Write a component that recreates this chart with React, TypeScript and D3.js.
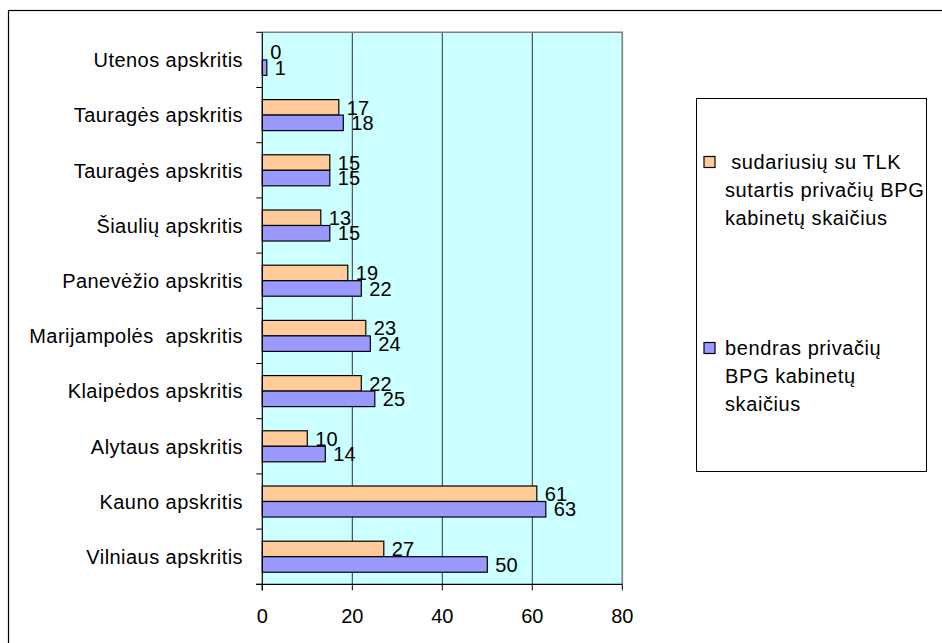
import React from "react";
import * as d3 from "d3";

// Regions, top to bottom
const categories = [
  "Utenos apskritis",
  "Tauragės apskritis",
  "Tauragės apskritis",
  "Šiaulių apskritis",
  "Panevėžio apskritis",
  "Marijampolės  apskritis",
  "Klaipėdos apskritis",
  "Alytaus apskritis",
  "Kauno apskritis",
  "Vilniaus apskritis",
];

// Private GP offices with a TLK contract
const contracted = [0, 17, 15, 13, 19, 23, 22, 10, 61, 27];
// Total private GP offices
const total = [1, 18, 15, 15, 22, 24, 25, 14, 63, 50];

const xTicks = [0, 20, 40, 60, 80];

const seriesNames = [
  [" sudariusių su TLK", "sutartis privačių BPG", "kabinetų skaičius"],
  ["bendras privačių", "BPG kabinetų", "skaičius"],
];

const ORANGE = "#FFCC99";
const BLUE = "#9999FF";
const FONT = "'Liberation Sans', Arial, sans-serif";

export default function App() {
  const W = 942;
  const H = 643;
  const plot = { left: 262.3, right: 622.3, top: 32.3, bottom: 584.3 };

  const x = d3.scaleLinear().domain([0, 80]).range([plot.left, plot.right]);
  const y = d3
    .scaleBand<number>()
    .domain(d3.range(categories.length))
    .range([plot.top, plot.bottom]);
  const inner = d3
    .scaleBand<number>()
    .domain([0, 1])
    .range([0, y.bandwidth()])
    .paddingOuter(0.78)
    .paddingInner(0);

  const series = [
    { values: contracted, color: ORANGE },
    { values: total, color: BLUE },
  ];

  const textStyle: React.CSSProperties = {
    fontFamily: FONT,
    fontSize: 20,
    letterSpacing: 0.45,
    whiteSpace: "pre",
  };
  const numStyle: React.CSSProperties = { ...textStyle, letterSpacing: 0 };

  return (
    <svg
      width={W}
      height={H}
      style={{ position: "fixed", left: 0, top: 0, background: "#fff" }}
    >
      {/* outer chart frame */}
      <rect x={8.5} y={10.5} width={1000} height={1000} fill="none" stroke="#000" strokeWidth={1.2} />

      {/* plot background */}
      <rect
        x={plot.left}
        y={plot.top}
        width={plot.right - plot.left}
        height={plot.bottom - plot.top}
        fill="#CCFFFF"
      />

      {/* vertical gridlines */}
      {xTicks.slice(1, -1).map((t) => (
        <line key={t} x1={x(t)} x2={x(t)} y1={plot.top} y2={plot.bottom} stroke="#333" strokeWidth={1} />
      ))}

      {/* plot border (top and right) */}
      <path
        d={`M${plot.left},${plot.top}H${plot.right}V${plot.bottom}`}
        fill="none"
        stroke="#808080"
        strokeWidth={1.6}
      />

      {/* bars */}
      {series.map((s, si) =>
        s.values.map((v, i) => {
          const by = (y(i) as number) + (inner(si) as number);
          const bh = inner.bandwidth();
          return (
            <g key={`${si}-${i}`}>
              {v > 0 && (
                <rect
                  x={x(0)}
                  y={by}
                  width={x(v) - x(0)}
                  height={bh}
                  fill={s.color}
                  stroke="#000"
                  strokeWidth={1.2}
                />
              )}
              <text x={x(v) + 8} y={by + bh / 2} dy="0.36em" style={numStyle} fill="#000">
                {v}
              </text>
            </g>
          );
        })
      )}

      {/* y axis */}
      <line x1={plot.left} x2={plot.left} y1={plot.top} y2={plot.bottom + 6} stroke="#000" strokeWidth={1.2} />
      {d3.range(categories.length + 1).map((i) => {
        const ty = plot.top + i * y.step();
        return <line key={i} x1={plot.left - 6} x2={plot.left} y1={ty} y2={ty} stroke="#000" strokeWidth={1} />;
      })}
      {categories.map((c, i) => (
        <text
          key={i}
          x={243}
          y={(y(i) as number) + y.bandwidth() / 2}
          dy="0.36em"
          textAnchor="end"
          style={textStyle}
          fill="#000"
        >
          {c}
        </text>
      ))}

      {/* x axis */}
      <line x1={plot.left - 6} x2={plot.right} y1={plot.bottom} y2={plot.bottom} stroke="#000" strokeWidth={1.2} />
      {xTicks.map((t) => (
        <g key={t}>
          <line x1={x(t)} x2={x(t)} y1={plot.bottom} y2={plot.bottom + 6} stroke="#000" strokeWidth={1} />
          <text x={x(t)} y={plot.bottom + 31} dy="0.36em" textAnchor="middle" style={numStyle} fill="#000">
            {t}
          </text>
        </g>
      ))}

      {/* legend */}
      <rect x={696.5} y={98.5} width={230} height={373} fill="#fff" stroke="#000" strokeWidth={1} />
      {seriesNames.map((lines, si) => {
        const top = si === 0 ? 162 : 348;
        return (
          <g key={si}>
            <rect
              x={704}
              y={top - 5.5}
              width={11}
              height={11}
              fill={series[si].color}
              stroke="#000"
              strokeWidth={1.2}
            />
            {lines.map((ln, li) => (
              <text key={li} x={725} y={top + li * 28} dy="0.36em" style={{ ...textStyle, letterSpacing: 0.6 }} fill="#000">
                {ln}
              </text>
            ))}
          </g>
        );
      })}
    </svg>
  );
}
